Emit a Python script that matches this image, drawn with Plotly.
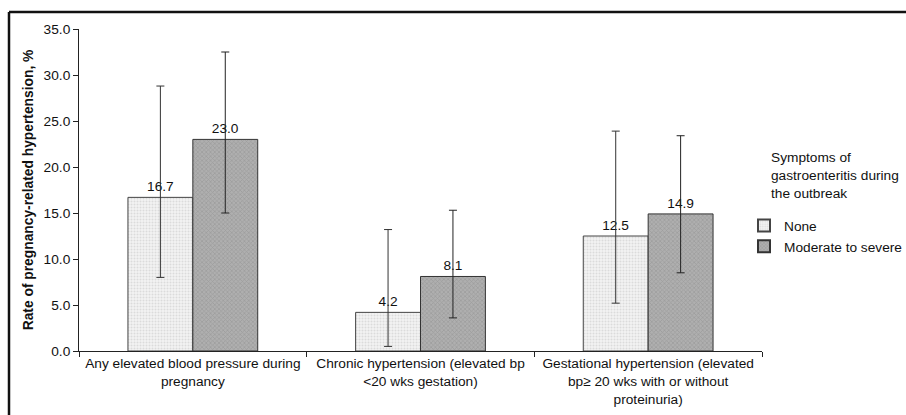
import plotly.graph_objects as go

categories = [
    "Any elevated blood pressure during<br>pregnancy",
    "Chronic hypertension (elevated bp<br><20 wks gestation)",
    "Gestational hypertension (elevated<br>bp\u2265 20 wks with or without<br>proteinuria)",
]
series_names = ["None", "Moderate to severe"]
none_vals = [16.7, 4.2, 12.5]
none_low = [8.0, 0.5, 5.2]
none_high = [28.8, 13.2, 23.9]
mod_vals = [23.0, 8.1, 14.9]
mod_low = [15.0, 3.6, 8.5]
mod_high = [32.5, 15.3, 23.4]
y_ticks = [0, 5, 10, 15, 20, 25, 30, 35]

W, H = 906, 415
L, R, T, B = 79, 762, 29, 351

def px2x(px):
    return (px - L) / (R - L)

def px2y(py):
    return (B - py) / (B - T)

font = "Liberation Sans, Arial, sans-serif"
FS = 13.7

fig = go.Figure()
fig.add_trace(go.Bar(
    name=series_names[0], x=categories, y=none_vals,
    text=[f"{v:.1f}" for v in none_vals], textposition="outside",
    textfont=dict(size=FS, color="#111"),
    marker=dict(color="#efefef", line=dict(color="#444", width=1),
                pattern=dict(shape=".", fgcolor="#c4c4c4", bgcolor="#f2f2f2", size=3, solidity=0.35)),
    error_y=dict(type="data", symmetric=False,
                 array=[h - v for h, v in zip(none_high, none_vals)],
                 arrayminus=[v - l for v, l in zip(none_vals, none_low)],
                 color="#333", thickness=1, width=4),
    cliponaxis=False,
))
fig.add_trace(go.Bar(
    name=series_names[1], x=categories, y=mod_vals,
    text=[f"{v:.1f}" for v in mod_vals], textposition="outside",
    textfont=dict(size=FS, color="#111"),
    marker=dict(color="#a4a4a4", line=dict(color="#333", width=1),
                pattern=dict(shape="x", fgcolor="#888888", bgcolor="#afafaf", size=3, solidity=0.4)),
    error_y=dict(type="data", symmetric=False,
                 array=[h - v for h, v in zip(mod_high, mod_vals)],
                 arrayminus=[v - l for v, l in zip(mod_vals, mod_low)],
                 color="#222", thickness=1, width=4),
    cliponaxis=False,
))

fig.update_layout(
    width=W, height=H,
    margin=dict(l=L, r=W - R, t=T, b=H - B, autoexpand=False),
    paper_bgcolor="white", plot_bgcolor="white",
    barmode="group", bargap=0.43, bargroupgap=0,
    font=dict(family=font, size=FS, color="#111"),
    showlegend=True,
    legend=dict(x=px2x(744), xanchor="left", y=px2y(210), yanchor="top",
                font=dict(size=FS), bgcolor="rgba(0,0,0,0)",
                tracegroupgap=0, itemsizing="constant"),
    xaxis=dict(showline=True, linecolor="#222", linewidth=1,
               ticks="outside", tickson="boundaries", ticklen=5, tickcolor="#222",
               tickfont=dict(size=FS), showgrid=False),
    yaxis=dict(range=[0, 35], tickvals=y_ticks, ticktext=[f"{v:.1f}" for v in y_ticks],
               showline=True, linecolor="#222", linewidth=1,
               ticks="outside", ticklen=5, tickcolor="#222", showgrid=False, zeroline=False,
               tickfont=dict(size=FS),
               title=dict(text="<b>Rate of pregnancy-related hypertension, %</b>",
                          font=dict(size=13.8), standoff=6)),
    annotations=[dict(
        text="Symptoms of<br>gastroenteritis during<br>the outbreak",
        xref="paper", yref="paper", x=px2x(769), y=px2y(148),
        xanchor="left", yanchor="top", align="left", showarrow=False,
        font=dict(size=FS, color="#111"),
    )],
    shapes=[
        dict(type="line", xref="paper", yref="paper", x0=px2x(9), x1=px2x(910),
             y0=px2y(12), y1=px2y(12), line=dict(color="#111", width=2.5)),
        dict(type="line", xref="paper", yref="paper", x0=px2x(9), x1=px2x(9),
             y0=px2y(12), y1=px2y(420), line=dict(color="#111", width=2.5)),
    ],
)

fig.write_html("out.html", config={"displayModeBar": False},
               post_script="document.body.style.margin='0px';document.body.style.overflow='hidden';")
